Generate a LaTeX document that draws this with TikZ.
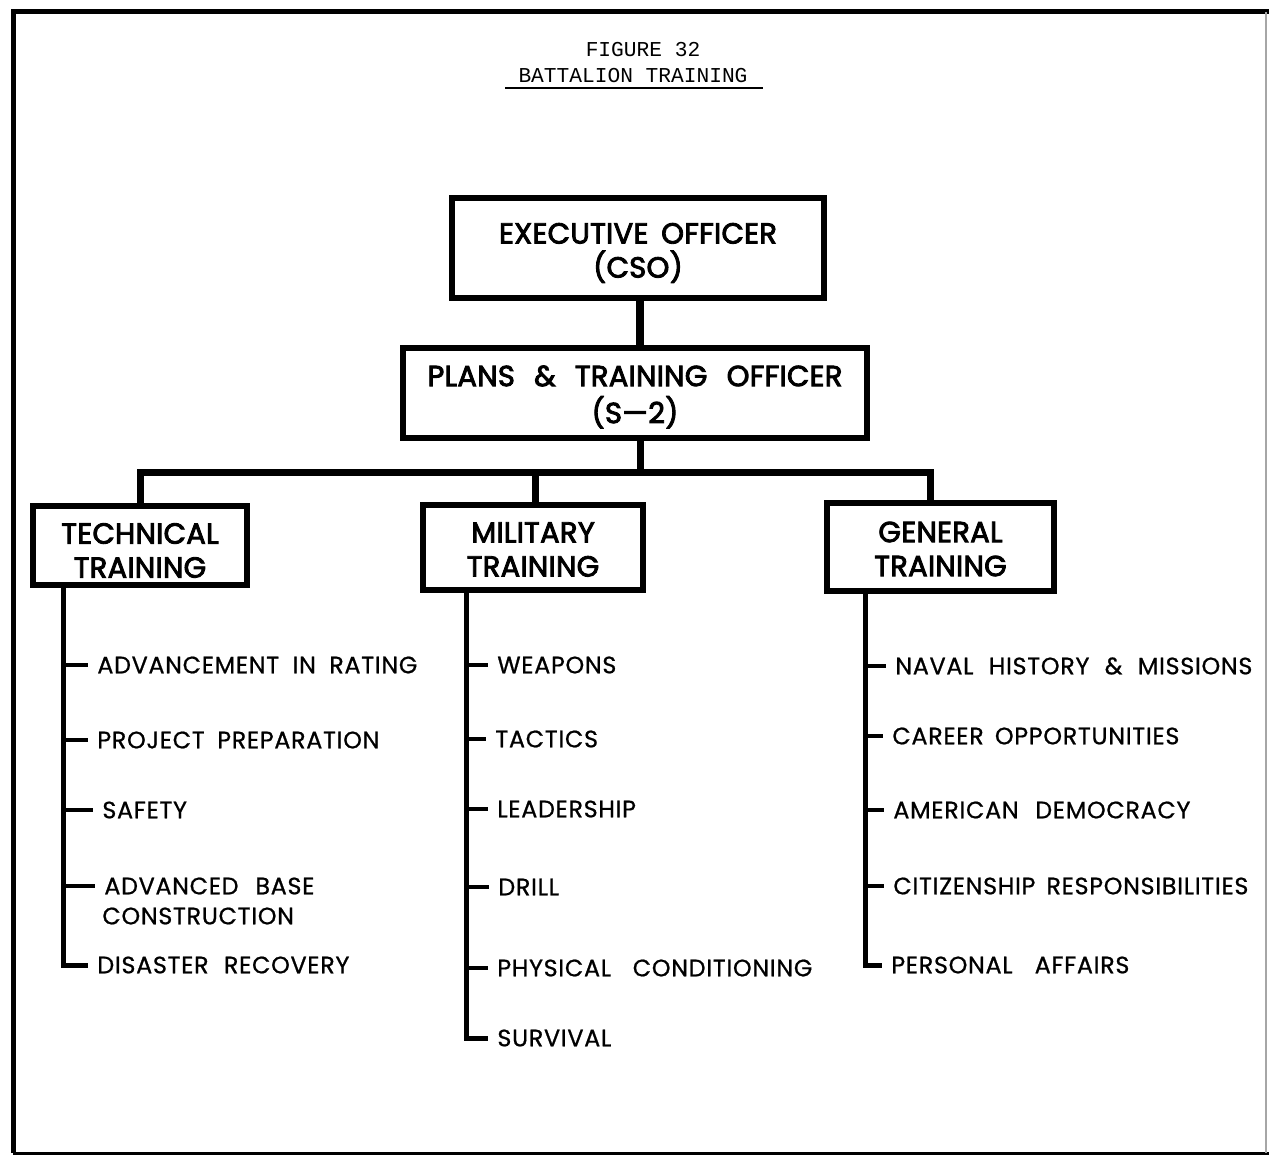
\documentclass[tikz,border=0pt]{standalone}
\usepackage{fontspec}
\newfontfamily\boxfont[FakeStretch=1.0, FakeBold=3, LetterSpace=1]{Poppins}
\newfontfamily\itemfontfam[LetterSpace=3, FakeBold=0.8]{Poppins}
\newfontfamily\typefont{Liberation Mono}
\newcommand\spread[2]{\makebox[#1pt][s]{#2}}
\begin{document}
\begin{tikzpicture}[x=0.5pt,y=-0.5pt,
  box/.style={draw, line width=3pt, inner sep=0pt},
  boxtext/.style={inner sep=0pt, align=center,
    font=\boxfont\fontsize{14.5}{17}\selectfont},
  conn/.style={line width=3.5pt},
  spine/.style={line width=2.5pt, line join=miter},
  tick/.style={line width=2pt},
  item/.style={anchor=west, inner xsep=4.5pt, inner ysep=0pt,
    font=\itemfontfam\fontsize{11.9}{14}\selectfont},
  frame/.style={line width=2.5pt}
]
\useasboundingbox (0,0) rectangle (1269,1156);
% frame
\draw[frame] (13,1153) -- (13,12) -- (1269,12);
\draw[line width=1.5pt] (13,1153) -- (1269,1153);
\draw[line width=0.6pt, black!35] (1266,12) -- (1266,1153);
% title
\node[font=\typefont\fontsize{10.6}{12}\selectfont, inner sep=0pt] (fig) at (643,50) {FIGURE 32};
\node[font=\typefont\fontsize{10.6}{12}\selectfont, inner sep=0pt] (ttl) at (633,76) {BATTALION TRAINING};
\coordinate (ul1) at (505,88);
\coordinate (ul2) at (763,88);
\draw[line width=1pt] (ul1) -- (ul2);
% boxes
\node[box, minimum width=186pt, minimum height=50pt] (exec) at (638,248) {};
\node[boxtext] (exect) at ([yshift=-2.5pt]exec.center) {\spread{139}{EXECUTIVE OFFICER}\\(CSO)};
\node[box, minimum width=232pt, minimum height=45pt] (plans) at (635,393) {};
\node[boxtext, font=\boxfont\fontsize{14.5}{18.5}\selectfont] (planst) at ([yshift=-2pt]plans.center)
  {\spread{207.5}{PLANS \& TRAINING OFFICER}\\(S—2)};
\node[box, minimum width=107pt, minimum height=39.5pt] (tech) at (140,545.5) {};
\node[boxtext] (techt) at ([yshift=-2.5pt]tech.center) {TECHNICAL\\TRAINING};
\node[box, minimum width=110pt, minimum height=42.5pt] (mil) at (533,547.5) {};
\node[boxtext] (milt) at ([yshift=-1pt]mil.center) {MILITARY\\TRAINING};
\node[box, minimum width=113.5pt, minimum height=44pt] (gen) at (940.5,547) {};
\node[boxtext] (gent) at ([yshift=-1pt]gen.center) {GENERAL\\TRAINING};
% connectors
\coordinate (bus) at (640,472);
\coordinate (bl) at (140,472);
\coordinate (bm) at (535,472);
\coordinate (br) at (930,472);
\draw[line width=4pt] (exec.south -| bus) -- (plans.north -| bus);
\draw[conn] (plans.south -| bus) -- (bus);
\draw[conn, line join=miter] (tech.north -| bl) -- (bl) -- (br) -- (gen.north -| br);
\draw[conn] (bm) -- (mil.north -| bm);
% technical items
\coordinate (ts) at (63,0);
\node[item] (t1) at (88,665) {\spread{160}{ADVANCEMENT IN RATING}};
\node[item] (t2) at (88,740) {\spread{141}{PROJECT PREPARATION}};
\node[item] (t3) at (93,810) {SAFETY};
\node[item] (t4) at (95,886) {\spread{105}{ADVANCED BASE}};
\node[item] (t4b) at (93,916) {CONSTRUCTION};
\node[item] (t5) at (88,965) {\spread{126}{DISASTER RECOVERY}};
\draw[spine] (tech.south -| ts) |- (t5.west);
\foreach \n in {t1,t2,t3,t4} \draw[tick] (\n.west -| ts) -- (\n.west);
% military items
\coordinate (ms) at (466,0);
\node[item] (m1) at (488,665) {WEAPONS};
\node[item] (m2) at (486,739) {TACTICS};
\node[item] (m3) at (488,809) {LEADERSHIP};
\node[item] (m4) at (489,887) {DRILL};
\node[item] (m5) at (488,968) {\spread{157.5}{PHYSICAL CONDITIONING}};
\node[item] (m6) at (488,1038) {SURVIVAL};
\draw[spine] (mil.south -| ms) |- (m6.west);
\foreach \n in {m1,m2,m3,m4,m5} \draw[tick] (\n.west -| ms) -- (\n.west);
% general items
\coordinate (gs) at (865,0);
\node[item] (g1) at (886,666) {\spread{178.5}{NAVAL HISTORY \& MISSIONS}};
\node[item] (g2) at (883,736) {\spread{143.5}{CAREER OPPORTUNITIES}};
\node[item] (g3) at (884,810) {\spread{148.5}{AMERICAN DEMOCRACY}};
\node[item] (g4) at (884,886) {\spread{177.5}{CITIZENSHIP RESPONSIBILITIES}};
\node[item] (g5) at (882,965) {\spread{119}{PERSONAL AFFAIRS}};
\draw[spine] (gen.south -| gs) |- (g5.west);
\foreach \n in {g1,g2,g3,g4} \draw[tick] (\n.west -| gs) -- (\n.west);
\end{tikzpicture}
\end{document}
